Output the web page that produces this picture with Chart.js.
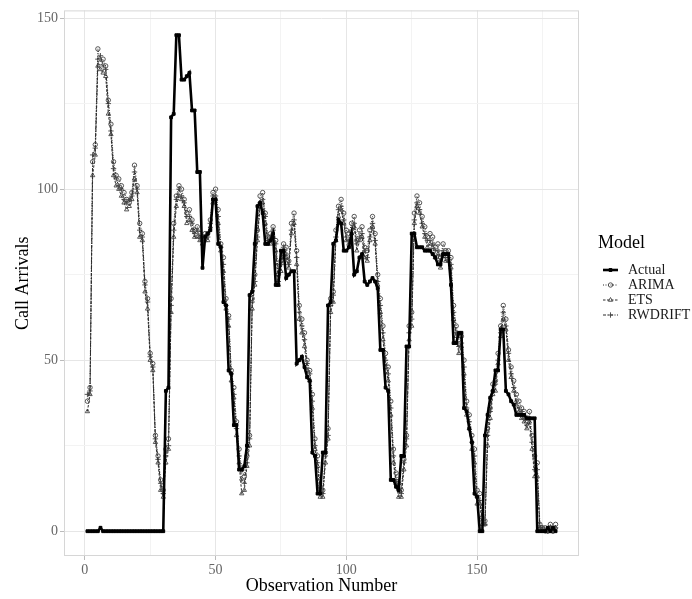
<!DOCTYPE html>
<html>
<head>
<meta charset="utf-8">
<script src="https://cdn.jsdelivr.net/npm/chart.js@4.4.1/dist/chart.umd.min.js"></script>
<style>
  html, body { margin: 0; padding: 0; background: #ffffff; }
  #wrap { position: relative; width: 692px; height: 599px; }
  canvas { display: block; }
</style>
</head>
<body>
<div id="wrap"><canvas id="c" width="692" height="599"></canvas></div>
<script>
// ---- Data ----
const observations = Array.from({length: 180}, (_, i) => i + 1);

const actual = [
  0,0,0,0,0,1,0,0,0,0,
  0,0,0,0,0,0,0,0,0,0,
  0,0,0,0,0,0,0,0,0,0,
  41,42,121,122,145,145,132,132,133,134,
  123,123,105,105,77,86,87,88,97,97,
  84,83,67,66,47,46,31,31,18,18,
  19,25,69,70,84,95,96,93,84,84,
  85,87,72,72,82,82,74,75,76,76,
  49,50,51,48,45,44,23,22,11,11,
  23,23,66,67,84,85,91,90,82,82,
  83,87,75,76,80,81,73,72,73,74,
  73,71,53,53,42,41,15,15,13,12,
  22,22,54,54,87,87,83,83,83,82,
  82,82,81,80,78,78,81,81,81,72,
  55,55,58,58,36,35,30,26,11,10,
  0,0,28,34,39,41,47,47,59,59,
  41,40,38,37,34,34,34,34,33,33,
  33,33,0,0,0,0,1,0,1,0
];

const arima = [
  38,42,108,113,141,137,138,136,126,119,
  108,104,103,101,99,97,96,99,107,101,
  90,87,73,68,52,49,28,22,15,12,
  24,27,68,90,98,101,100,97,93,94,
  91,88,89,87,86,87,87,91,99,100,
  94,84,80,68,63,47,42,32,24,18,
  16,22,28,68,75,88,98,99,93,86,
  87,89,85,75,79,84,83,79,90,93,
  82,66,62,58,50,47,40,27,22,13,
  12,23,30,68,70,88,95,97,93,88,
  87,90,92,85,88,89,83,82,88,92,
  87,75,68,60,52,48,38,24,17,14,
  12,21,28,60,64,93,98,96,92,89,
  86,87,86,83,84,80,84,82,82,80,
  66,60,56,57,50,38,34,28,24,12,
  11,4,3,30,36,43,44,52,60,66,
  62,53,48,44,40,38,36,35,33,35,
  28,22,20,2,1,1,0,2,0,2
];

const ets = [
  35,40,104,110,136,135,134,133,122,116,
  104,101,100,98,96,94,95,97,103,99,
  86,85,70,65,50,47,26,20,12,10,
  20,24,64,86,95,98,97,95,90,91,
  88,86,86,85,84,85,85,89,96,97,
  90,82,76,65,60,44,39,28,20,11,
  12,19,25,65,72,85,95,96,90,84,
  84,86,82,72,76,82,80,77,87,90,
  78,62,58,54,47,44,36,24,19,10,
  10,20,27,64,67,85,92,94,90,85,
  84,87,89,82,85,86,80,79,85,89,
  84,72,64,56,48,44,34,20,14,10,
  10,18,25,56,60,90,95,93,89,86,
  83,84,83,80,81,77,81,79,79,77,
  62,57,52,54,46,34,30,24,20,8,
  8,2,2,25,33,40,41,49,57,62,
  59,50,45,41,37,35,33,32,30,32,
  24,16,16,1,0,0,0,1,0,1
];

const rwdrift = [
  40,41,110,112,138,139,136,135,125,117,
  106,103,101,100,97,96,97,98,105,100,
  88,86,72,67,51,48,27,21,14,11,
  22,25,66,88,97,100,98,96,92,92,
  90,87,88,86,85,86,86,90,98,98,
  92,83,78,66,62,46,40,30,22,15,
  14,20,27,67,73,86,96,97,92,85,
  86,88,84,73,78,83,81,78,88,91,
  80,64,60,56,49,46,38,25,20,12,
  11,22,28,66,69,86,94,95,91,86,
  85,88,90,84,86,87,82,80,86,90,
  85,73,66,58,50,46,36,22,15,12,
  11,20,27,58,62,91,96,94,90,87,
  85,85,84,82,82,79,82,80,80,78,
  64,58,54,55,48,36,32,26,22,10,
  9,3,2,28,35,41,43,50,58,64,
  60,52,46,42,38,36,35,33,31,33,
  26,18,18,1,1,0,0,1,0,1
];

const xTicks = [0, 25, 50, 75, 100, 125, 150, 175];
const yTicks = [0, 25, 50, 75, 100, 125, 150];
const seriesNames = ['Actual', 'ARIMA', 'ETS', 'RWDRIFT'];

// ---- Styling ----
const FONT = "'Liberation Serif', 'Times New Roman', serif";
const styles = {
  Actual:  { color: '#000000', width: 2.6, dash: [],          point: 'rect',     radius: 2.0, fill: '#000000', pbw: 1, pc: '#000' },
  ARIMA:   { color: '#2a2a2a', width: 1.0, dash: [1, 1.5],    point: 'circle',   radius: 2.2, fill: 'rgba(0,0,0,0)', pbw: 0.9, pc: '#444' },
  ETS:     { color: '#2a2a2a', width: 1.0, dash: [2.5, 1.5],  point: 'triangle', radius: 2.5, fill: 'rgba(0,0,0,0)', pbw: 0.9, pc: '#444' },
  RWDRIFT: { color: '#2a2a2a', width: 1.0, dash: [3, 1.5, 1, 1.5], point: 'cross', radius: 2.7, fill: 'rgba(0,0,0,0)', pbw: 0.9, pc: '#444' }
};

function toXY(values) {
  return values.map((v, i) => ({ x: observations[i], y: v }));
}
const seriesValues = { Actual: actual, ARIMA: arima, ETS: ets, RWDRIFT: rwdrift };

const datasets = seriesNames.map((name, idx) => {
  const s = styles[name];
  return {
    label: name,
    data: toXY(seriesValues[name]),
    borderColor: s.color,
    borderWidth: s.width,
    borderDash: s.dash,
    pointStyle: s.point,
    pointRadius: s.radius,
    pointBorderColor: s.pc,
    pointBackgroundColor: s.fill,
    pointBorderWidth: s.pbw,
    tension: 0,
    fill: false,
    order: idx
  };
});

const isMajor = v => v % 50 === 0;

const panelPlugin = {
  id: 'panel',
  beforeDatasetsDraw(chart) {
    const { ctx, chartArea: a } = chart;
    ctx.save();
    ctx.strokeStyle = '#d6d6d6';
    ctx.lineWidth = 1;
    ctx.strokeRect(a.left + 0.5, a.top + 0.5, a.right - a.left - 1, a.bottom - a.top - 1);
    ctx.restore();
  },
  afterDraw(chart) {
    const ctx = chart.ctx;
    ctx.save();
    ctx.fillStyle = '#000';
    ctx.textBaseline = 'middle';
    ctx.textAlign = 'left';
    ctx.font = '18px ' + FONT;
    ctx.fillText('Model', 598, 243);
    const ys = [270, 285, 300, 315];
    seriesNames.forEach((name, i) => {
      const s = styles[name];
      const y = ys[i];
      ctx.save();
      ctx.strokeStyle = s.color;
      ctx.lineWidth = s.width;
      ctx.setLineDash(s.dash);
      ctx.beginPath();
      ctx.moveTo(603, y);
      ctx.lineTo(618, y);
      ctx.stroke();
      ctx.setLineDash([]);
      ctx.strokeStyle = s.pc;
      ctx.fillStyle = s.fill;
      ctx.lineWidth = s.pbw;
      Chart.helpers.drawPoint(ctx, { pointStyle: s.point, radius: s.radius, borderWidth: s.pbw, rotation: 0 }, 610.5, y);
      ctx.restore();
      ctx.fillStyle = '#1a1a1a';
      ctx.font = '14px ' + FONT;
      ctx.textBaseline = 'middle';
      ctx.fillText(name, 628, y);
    });
    ctx.restore();
  }
};

new Chart(document.getElementById('c'), {
  type: 'line',
  data: { datasets },
  plugins: [panelPlugin],
  options: {
    responsive: false,
    animation: false,
    devicePixelRatio: 1,
    layout: { padding: { top: 6, right: 113, left: 0, bottom: 0 } },
    plugins: { legend: { display: false }, tooltip: { enabled: false } },
    elements: { line: { borderCapStyle: 'butt', borderJoinStyle: 'miter' } },
    scales: {
      x: {
        type: 'linear',
        min: -7.95,
        max: 188.95,
        afterBuildTicks: s => { s.ticks = xTicks.map(v => ({ value: v })); },
        afterFit: s => { s.height = 43; },
        ticks: {
          autoSkip: false, maxRotation: 0, padding: 2,
          color: '#666666', font: { family: FONT, size: 14 },
          callback: v => isMajor(v) ? String(v) : ''
        },
        grid: {
          color: c => isMajor(c.tick.value) ? '#e6e6e6' : '#f3f3f3',
          lineWidth: 1,
          tickLength: 4,
          tickColor: c => isMajor(c.tick.value) ? '#bbbbbb' : 'rgba(0,0,0,0)'
        },
        border: { display: false },
        title: {
          display: true, text: 'Observation Number', color: '#000',
          font: { family: FONT, size: 18 }, padding: { top: 0, bottom: 2 }
        }
      },
      y: {
        type: 'linear',
        min: -7.25,
        max: 152.25,
        afterBuildTicks: s => { s.ticks = yTicks.map(v => ({ value: v })); },
        afterFit: s => { s.width = 64; },
        ticks: {
          autoSkip: false, padding: 2,
          color: '#666666', font: { family: FONT, size: 14 },
          callback: v => isMajor(v) ? String(v) : ''
        },
        grid: {
          color: c => isMajor(c.tick.value) ? '#e6e6e6' : '#f3f3f3',
          lineWidth: 1,
          tickLength: 4,
          tickColor: c => isMajor(c.tick.value) ? '#bbbbbb' : 'rgba(0,0,0,0)'
        },
        border: { display: false },
        title: {
          display: true, text: 'Call Arrivals', color: '#000',
          font: { family: FONT, size: 18 }, padding: { top: 12, bottom: 0 }
        }
      }
    }
  }
});
</script>
</body>
</html>
